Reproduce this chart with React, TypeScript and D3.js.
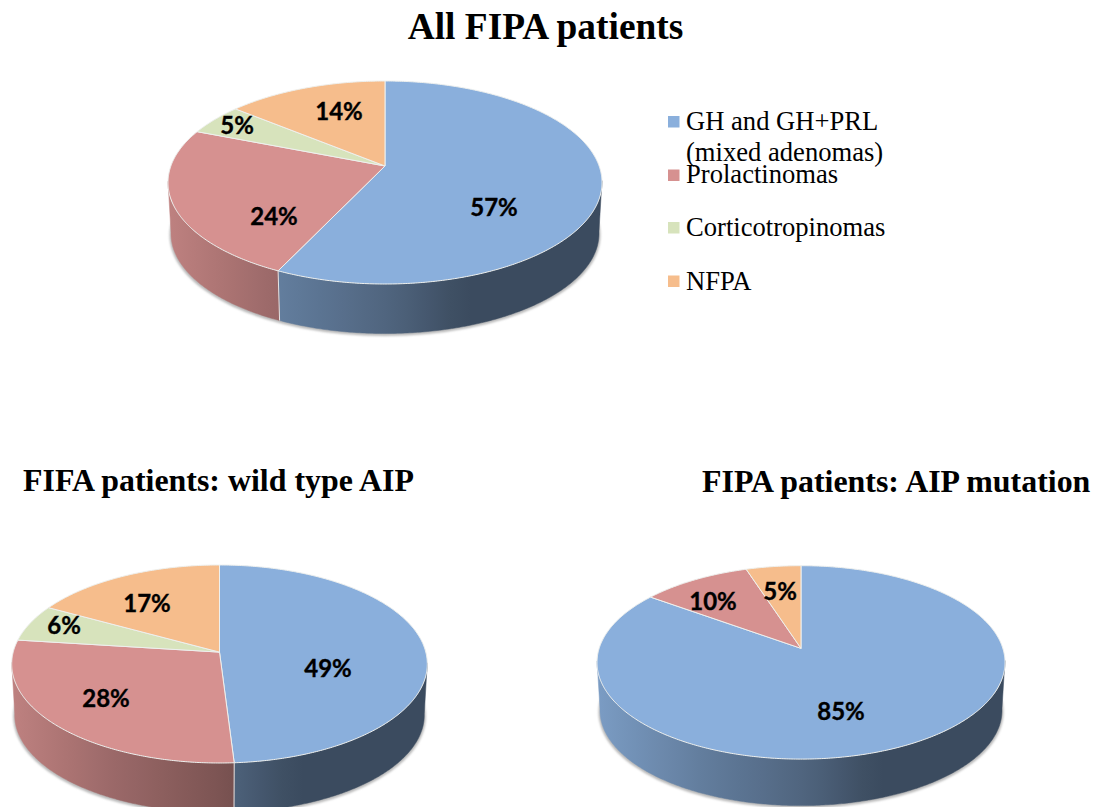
import React from "react";
import * as d3 from "d3";

const allPatients = [57, 24, 5, 14];
const wildType = [49, 28, 6, 17];
const aipMutation = [85, 10, 0, 5];

const categories = ["GH and GH+PRL", "Prolactinomas", "Corticotropinomas", "NFPA"];
const sliceColors = ["#8AAFDC", "#D69190", "#D7E3BC", "#F6BD8C"];

const chartTitles = ["All FIPA patients", "FIFA patients: wild type AIP", "FIPA patients: AIP mutation"];

type Pie3D = {
  id: string;
  values: number[];
  cx: number;
  cy: number;
  rx: number;
  ry: number;
  tilt: number; // how far the hub sits above the rim's centre, as a share of ry
  depth: number;
  labels: { i: number; x: number; y: number }[];
};

const pies: Pie3D[] = [
  {
    id: "all", values: allPatients, cx: 385, cy: 182.5, rx: 217, ry: 101.5, tilt: 0.1626, depth: 49,
    labels: [{ i: 0, x: 494, y: 207 }, { i: 1, x: 274, y: 216 }, { i: 2, x: 237, y: 125 }, { i: 3, x: 339, y: 111 }],
  },
  {
    id: "wild", values: wildType, cx: 219.5, cy: 664, rx: 207.8, ry: 99, tilt: 0.12, depth: 49,
    labels: [{ i: 0, x: 328, y: 668 }, { i: 1, x: 106, y: 698 }, { i: 2, x: 64, y: 625 }, { i: 3, x: 147, y: 603 }],
  },
  {
    id: "mut", values: aipMutation, cx: 801, cy: 662.4, rx: 204, ry: 96.7, tilt: 0.145, depth: 46,
    labels: [{ i: 0, x: 841, y: 711 }, { i: 1, x: 713, y: 601 }, { i: 3, x: 780, y: 591 }],
  },
];

// Wall brightness from the left edge of a pie to its right edge.
const wallShade = d3.scaleLinear<number>().domain([0, 0.25, 0.53, 0.68, 1]).range([0.89, 0.72, 0.56, 0.43, 0.43]);
const wallStops = d3.range(0, 1.001, 0.05);

const pieLayout = d3.pie<number>().sort(null).value((d) => d);
const linePath = d3.line<[number, number]>();

// Perspective projection of a point on the unit disc onto the tilted ellipse.
function project(angle: number, k: number): [number, number] {
  const x = Math.sin(angle);
  const y = -Math.cos(angle);
  const w = 1 - k * y;
  return [(x * Math.sqrt(1 - k * k)) / w, (y - k) / w];
}

function rim(a0: number, a1: number, k: number): [number, number][] {
  const n = Math.max(2, Math.ceil((a1 - a0) / 0.01));
  return d3.range(n + 1).map((j) => project(a0 + ((a1 - a0) * j) / n, k));
}

function PieChart({ pie }: { pie: Pie3D }) {
  const { cx, cy, rx, ry, tilt, depth } = pie;
  const arcs = pieLayout(pie.values);
  const rxLow = rx - 3;
  const ryLow = ry - 1.5;
  const cyLow = cy + depth + 2;
  const top = (p: [number, number]): [number, number] => [cx + p[0] * rx, cy + p[1] * ry];
  const low = (p: [number, number]): [number, number] => [cx + p[0] * rxLow, cyLow + p[1] * ryLow];
  const hub: [number, number] = [cx, cy - tilt * ry];
  const xToT = d3.scaleLinear().domain([0, 1]).range([cx - rx, cx + rx]);

  return (
    <g>
      <defs>
        {[0, 1].map((s) => (
          <linearGradient key={s} id={`${pie.id}-wall-${s}`} gradientUnits="userSpaceOnUse" x1={xToT(0)} x2={xToT(1)} y1={0} y2={0}>
            {wallStops.map((t) => {
              const c = d3.rgb(sliceColors[s]);
              const f = wallShade(t);
              return <stop key={t} offset={t} stopColor={d3.rgb(c.r * f, c.g * f, c.b * f).formatHex()} />;
            })}
          </linearGradient>
        ))}
      </defs>
      <ellipse cx={cx} cy={cyLow + 1.5} rx={rxLow + 1.5} ry={ryLow + 1} fill="#b9b9b9" filter="url(#soft-shadow)" />
      {arcs.map((a, i) => {
        const pts = rim(a.startAngle, a.endAngle, tilt).filter((p) => p[1] >= -0.02);
        if (a.value === 0 || pts.length < 2 || i > 1) return null;
        const outline = [...pts.map(top), ...pts.slice().reverse().map(low)];
        return <path key={i} d={linePath(outline) + "Z"} fill={`url(#${pie.id}-wall-${i})`} stroke={`url(#${pie.id}-wall-${i})`} strokeWidth={0.5} />;
      })}
      {arcs.map((a, i) => {
        const pts = rim(a.startAngle, a.endAngle, tilt).filter((p) => p[1] >= 0);
        const boundary = project(a.endAngle, tilt);
        if (a.value === 0 || pts.length < 2 || boundary[1] < 0 || a.endAngle >= 2 * Math.PI - 1e-6) return null;
        return (
          <line key={i} x1={top(boundary)[0]} y1={top(boundary)[1]} x2={low(boundary)[0]} y2={low(boundary)[1]} stroke="#e4e4e4" strokeWidth={1} />
        );
      })}
      {arcs.map((a, i) => {
        if (a.value === 0) return null;
        const outline = [hub, ...rim(a.startAngle, a.endAngle, tilt).map(top)];
        return <path key={i} d={linePath(outline) + "Z"} fill={sliceColors[i]} stroke="#eef0ee" strokeWidth={1} strokeLinejoin="round" />;
      })}
      {pie.labels.map((l) => (
        <text key={l.i} x={l.x} y={l.y + 0.5} dy="0.35em" textAnchor="middle" fontFamily="Lato" fontWeight={700} fontSize={24} fill="#000" stroke="#000" strokeWidth={0.35}>
          {pie.values[l.i]}%
        </text>
      ))}
    </g>
  );
}

const serif = "'Liberation Serif'";
const legendRows = [
  { i: 0, box: 116, base: 130 },
  { i: 1, box: 169.5, base: 183 },
  { i: 2, box: 222, base: 236 },
  { i: 3, box: 275.5, base: 289.5 },
];

export default function App() {
  return (
    <svg width={1101} height={807} viewBox="0 0 1101 807" style={{ position: "absolute", left: 0, top: 0, display: "block", background: "#fff" }}>
      <defs>
        <filter id="soft-shadow" x="-5%" y="-5%" width="110%" height="110%">
          <feGaussianBlur stdDeviation={1.2} />
        </filter>
      </defs>
      <g fontFamily={serif} fontWeight={700} fill="#000">
        <text x={545.5} y={39} textAnchor="middle" fontSize={37.4}>{chartTitles[0]}</text>
        <text x={23} y={491} fontSize={31.9}>{chartTitles[1]}</text>
        <text x={702} y={492} fontSize={31.9}>{chartTitles[2]}</text>
      </g>
      {pies.map((p) => <PieChart key={p.id} pie={p} />)}
      <g fontFamily={serif} fontSize={26.6} fill="#000">
        {legendRows.map((r) => (
          <g key={r.i}>
            <rect x={668} y={r.box} width={11.5} height={11.5} fill={sliceColors[r.i]} />
            <text x={686} y={r.base}>{categories[r.i]}</text>
          </g>
        ))}
        <text x={686} y={161}>(mixed adenomas)</text>
      </g>
    </svg>
  );
}
